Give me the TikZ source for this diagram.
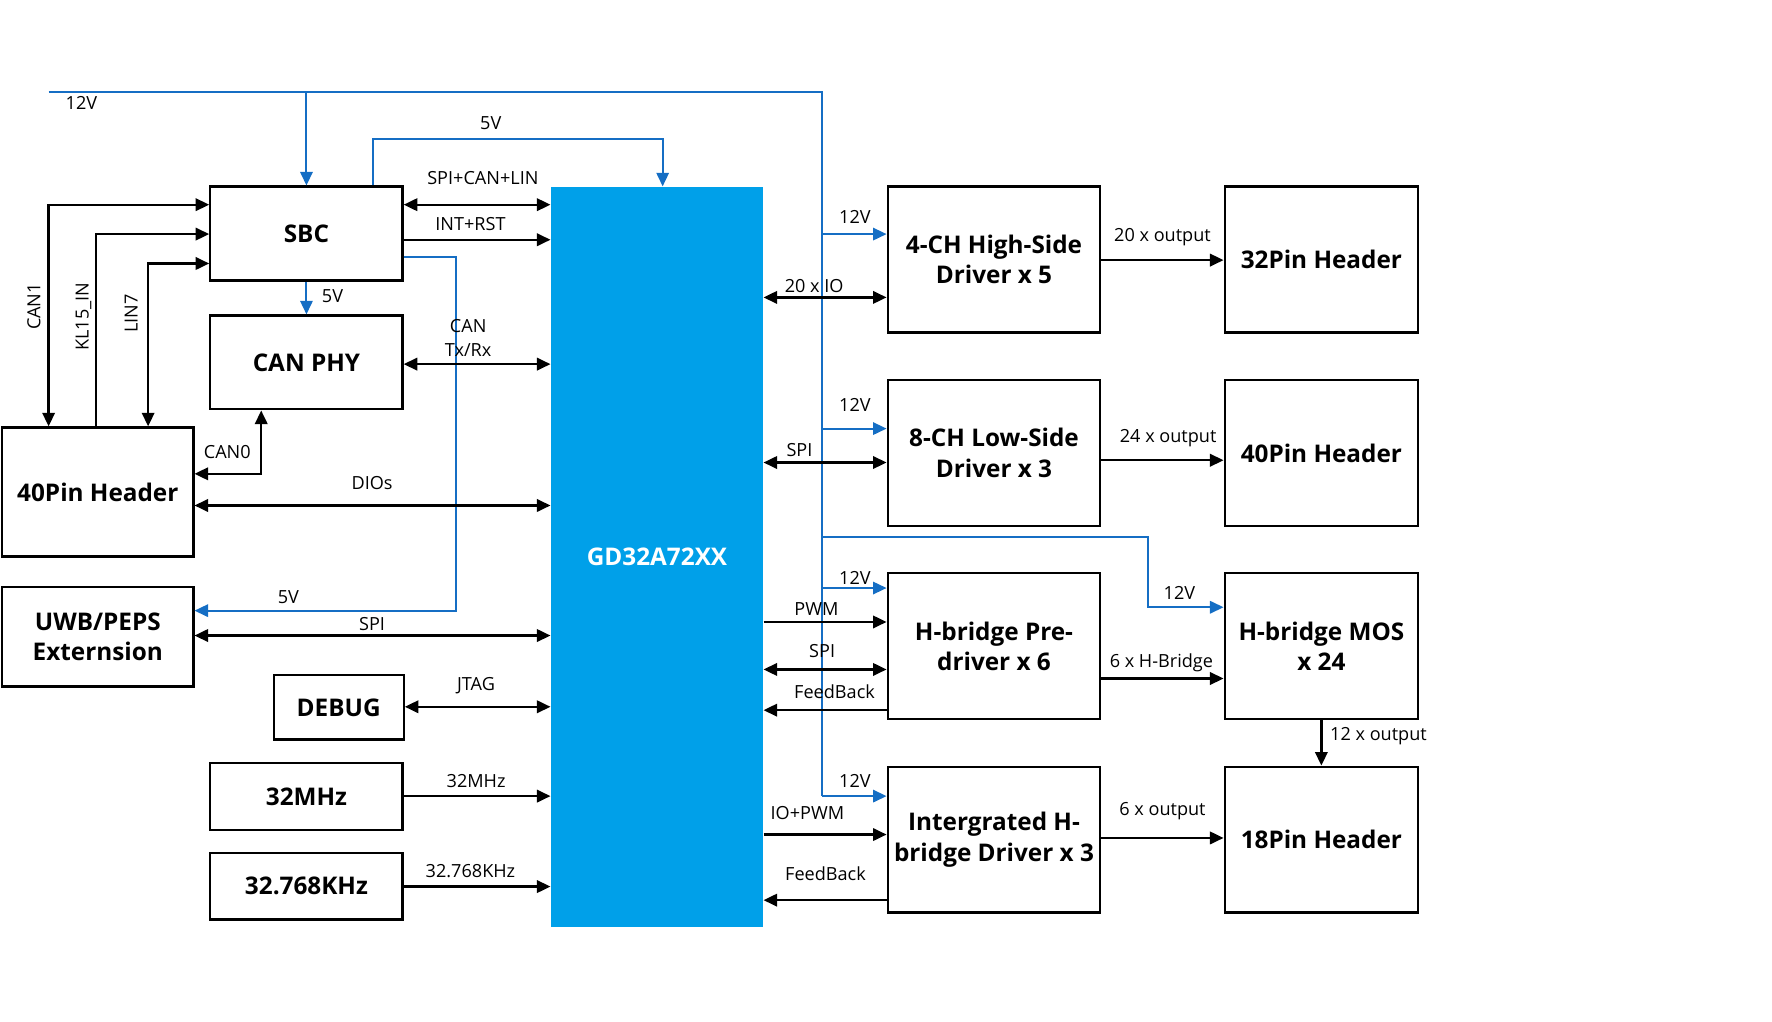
\documentclass[tikz,border=0pt]{standalone}
\usepackage{fontspec}
\setmainfont{Open Sans}
\usetikzlibrary{arrows.meta}
\definecolor{mcublue}{RGB}{0,160,233}
\definecolor{lineblue}{RGB}{21,110,196}
\begin{document}
\begin{tikzpicture}[x=1pt,y=-1pt,
  blk/.style={draw=black, line width=2pt, fill=white, align=center, inner sep=2pt,
    font=\bfseries\fontsize{21.5}{27}\selectfont},
  lbl/.style={inner sep=0pt, font=\fontsize{16}{19}\selectfont, align=center},
  arr/.style={-{Triangle[length=12pt,width=11pt]}, line width=2pt, black},
  dbl/.style={{Triangle[length=12pt,width=11pt]}-{Triangle[length=12pt,width=11pt]}, line width=2pt, black},
  pw/.style={line width=1.7pt, lineblue},
  pwarr/.style={-{Triangle[length=12pt,width=11pt]}, line width=1.7pt, lineblue}]
\useasboundingbox (0,0) rectangle (1567,902.9);

% ---------- blocks ----------
\node[blk, minimum width=170pt, minimum height=83pt] (sbc) at (271,206.5) {SBC};
\node[blk, minimum width=170pt, minimum height=83pt] (canphy) at (271,320.5) {CAN PHY};
\node[blk, minimum width=169pt, minimum height=114pt] (hdrL) at (86.5,435) {40Pin Header};
\node[blk, minimum width=169pt, minimum height=88pt] (uwb) at (86.5,563) {UWB/PEPS\\Externsion};
\node[blk, minimum width=115pt, minimum height=57pt] (debug) at (299.5,625.5) {DEBUG};
\node[blk, minimum width=170pt, minimum height=59pt] (m32) at (271,704.5) {32MHz};
\node[blk, minimum width=170pt, minimum height=59pt] (k32) at (271,783.5) {32.768KHz};
\node[fill=mcublue, minimum width=188pt, minimum height=655pt, inner sep=0pt,
      text=white, font=\bfseries\fontsize{21.5}{25}\selectfont] (mcu) at (581,492.5) {GD32A72XX};

\node[blk, minimum width=188pt, minimum height=129pt] (hs) at (879,229.5) {4-CH High-Side\\Driver x 5};
\node[blk, minimum width=188pt, minimum height=129pt] (ls) at (879,400.5) {8-CH Low-Side\\Driver x 3};
\node[blk, minimum width=188pt, minimum height=129pt] (hpre) at (879,571.5) {H-bridge Pre-\\driver x 6};
\node[blk, minimum width=188pt, minimum height=129pt] (inth) at (879,742.5) {Intergrated H-\\bridge Driver x 3};

\node[blk, minimum width=171pt, minimum height=129pt] (p32) at (1168.5,229.5) {32Pin Header};
\node[blk, minimum width=171pt, minimum height=129pt] (p40) at (1168.5,400.5) {40Pin Header};
\node[blk, minimum width=171pt, minimum height=129pt] (mos) at (1168.5,571.5) {H-bridge MOS\\x 24};
\node[blk, minimum width=171pt, minimum height=129pt] (p18) at (1168.5,742.5) {18Pin Header};

% ---------- power (blue) ----------
\coordinate (vin) at (43,81);
\coordinate (vtop) at (271,81);
\coordinate (vcorner) at (727,81);
\coordinate (vend) at (727,704);
\coordinate (b1) at (727,207);
\coordinate (b2) at (727,379);
\coordinate (b3) at (727,520);
\coordinate (b4) at (727,704);
\coordinate (b5) at (727,475);
\draw[pw] (vin) -- (vcorner) -- (vend);
\draw[pwarr] (vtop) -- (sbc.north);
\draw[pwarr] (b1) -- (b1 -| hs.west);
\draw[pwarr] (b2) -- (b2 -| ls.west);
\draw[pwarr] (b3) -- (b3 -| hpre.west);
\draw[pwarr] (b4) -- (b4 -| inth.west);
\draw[pwarr] (b5) -| (1015,537) -- (mos.west |- 0,537);

\draw[pwarr] (sbc.north -| 330,0) |- (586,123) -- (mcu.north -| 586,0);
\draw[pwarr] (sbc.east |- 0,227) -| (403,540) -- (uwb.east |- 0,540);
\draw[pwarr] (sbc.south) -- (canphy.north);

% ---------- signals, left ----------
\draw[dbl] (sbc.east |- 0,181) -- (mcu.west |- 0,181);
\draw[arr] (sbc.east |- 0,212) -- (mcu.west |- 0,212);
\draw[dbl] (canphy.east |- 0,322) -- (mcu.west |- 0,322);
\draw[dbl] (hdrL.east |- 0,447) -- (mcu.west |- 0,447);
\draw[dbl] (uwb.east |- 0,562) -- (mcu.west |- 0,562);
\draw[dbl] (debug.east |- 0,625) -- (mcu.west |- 0,625);
\draw[arr] (m32.east |- 0,704) -- (mcu.west |- 0,704);
\draw[arr] (k32.east |- 0,784) -- (mcu.west |- 0,784);

\draw[dbl] (sbc.west |- 0,181) -| (hdrL.north -| 43,0);
\draw[arr] (hdrL.north -| 85,0) |- (sbc.west |- 0,207);
\draw[dbl] (hdrL.north -| 131,0) |- (sbc.west |- 0,233);
\draw[dbl] (canphy.south -| 231,0) |- (hdrL.east |- 0,419);

% ---------- signals, right ----------
\draw[dbl] (mcu.east |- 0,263) -- (hs.west |- 0,263);
\draw[dbl] (mcu.east |- 0,409) -- (ls.west |- 0,409);
\draw[arr] (mcu.east |- 0,550) -- (hpre.west |- 0,550);
\draw[dbl] (mcu.east |- 0,592) -- (hpre.west |- 0,592);
\draw[arr] (hpre.west |- 0,628) -- (mcu.east |- 0,628);
\draw[arr] (mcu.east |- 0,738) -- (inth.west |- 0,738);
\draw[arr] (inth.west |- 0,796) -- (mcu.east |- 0,796);

\draw[arr] (hs.east |- 0,230) -- (p32.west |- 0,230);
\draw[arr] (ls.east |- 0,407) -- (p40.west |- 0,407);
\draw[arr] (hpre.east |- 0,600) -- (mos.west |- 0,600);
\draw[arr] (inth.east |- 0,741) -- (p18.west |- 0,741);
\draw[arr] (mos.south) -- (p18.north);

% ---------- labels ----------
\node[lbl] (t1) at (72,91) {12V};
\node[lbl] (t2) at (434,109) {5V};
\node[lbl] (t3) at (427,157) {SPI+CAN+LIN};
\node[lbl] (t4) at (416,198) {INT+RST};
\node[lbl] (t5) at (294,262) {5V};
\node[lbl, font=\fontsize{16}{21}\selectfont] (t6) at (414,299) {CAN\\Tx/Rx};
\node[lbl] (t7) at (201,400) {CAN0};
\node[lbl] (t8) at (329,427) {DIOs};
\node[lbl] (t9) at (255,528) {5V};
\node[lbl] (t10) at (329,552) {SPI};
\node[lbl] (t11) at (421,606) {JTAG};
\node[lbl] (t12) at (421,691) {32MHz};
\node[lbl] (t13) at (416,770) {32.768KHz};
\node[lbl, rotate=90] (t14) at (30,271) {CAN1};
\node[lbl, rotate=90] (t15) at (74,280) {KL15\_IN};
\node[lbl, rotate=90] (t16) at (116,277) {LIN7};

\node[lbl] (r1) at (756,192) {12V};
\node[lbl] (r2) at (720,253) {20 x IO};
\node[lbl] (r3) at (756,358) {12V};
\node[lbl] (r4) at (707,398) {SPI};
\node[lbl] (r5) at (756,511) {12V};
\node[lbl] (r6) at (722,539) {PWM};
\node[lbl] (r7) at (727,576) {SPI};
\node[lbl] (r8) at (738,612) {FeedBack};
\node[lbl] (r9) at (756,691) {12V};
\node[lbl] (r10) at (714,719) {IO+PWM};
\node[lbl] (r11) at (730,773) {FeedBack};

\node[lbl] (s1) at (1028,210) {20 x output};
\node[lbl] (s2) at (1033,387) {24 x output};
\node[lbl] (s3) at (1043,524) {12V};
\node[lbl] (s4) at (1027,586) {6 x H-Bridge};
\node[lbl] (s5) at (1219,651) {12 x output};
\node[lbl] (s6) at (1028,717) {6 x output};
\end{tikzpicture}
\end{document}
